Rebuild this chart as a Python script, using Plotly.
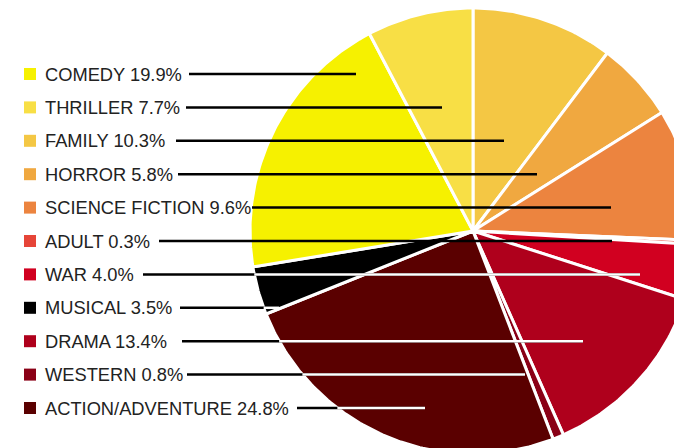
"""Film genre share pie with left-hand labels and leader lines."""

import numpy as np
import plotly.graph_objects as go

# legend order (top to bottom)
genres = [
    "COMEDY", "THRILLER", "FAMILY", "HORROR", "SCIENCE FICTION", "ADULT",
    "WAR", "MUSICAL", "DRAMA", "WESTERN", "ACTION/ADVENTURE",
]
shares = [19.9, 7.7, 10.3, 5.8, 9.6, 0.3, 4.0, 3.5, 13.4, 0.8, 24.8]
colors = [
    "#F6F100", "#F8DF45", "#F4C744", "#F0A840", "#EC843F", "#E64538",
    "#D10020", "#000000", "#AF001C", "#8A0016", "#5A0000",
]
# order of slices clockwise from 12 o'clock
pie_order = [
    "FAMILY", "HORROR", "SCIENCE FICTION", "ADULT", "WAR", "DRAMA",
    "WESTERN", "ACTION/ADVENTURE", "MUSICAL", "COMEDY", "THRILLER",
]

# axis units are page pixels (body margin removed below)
W, H = 674, 448
CX, CY, R = 473, 231, 223
ROW0, ROW_STEP = 74, 33.4
# leader line start (after the text) and end (inside the slice), in px
line_x0 = [189, 186, 176, 178, 252, 159, 143, 180, 182, 187, 297]
line_x1 = [356, 442, 504, 537, 611, 612, 640, 279, 583, 525, 425]
white_inside = {"WAR", "MUSICAL", "DRAMA", "WESTERN", "ACTION/ADVENTURE"}

fig = go.Figure()

total = sum(shares)
start = 0.0
for g in pie_order:
    i = genres.index(g)
    span = shares[i] / total * 2 * np.pi
    t = np.linspace(start, start + span, max(4, int(span * 80)))
    xs = np.concatenate([[CX], CX + R * np.sin(t), [CX]])
    ys = np.concatenate([[CY], CY - R * np.cos(t), [CY]])
    fig.add_trace(go.Scatter(
        x=xs, y=ys, mode="lines", fill="toself", fillcolor=colors[i],
        line=dict(color="white", width=3), hoverinfo="skip", showlegend=False,
    ))
    start += span

for i, g in enumerate(genres):
    y = ROW0 + i * ROW_STEP
    fig.add_shape(type="rect", x0=24, x1=36, y0=y - 6, y1=y + 6,
                  fillcolor=colors[i], line_width=0)
    fig.add_annotation(
        x=43, y=y, text=f"{g} {shares[i]:.1f}%", showarrow=False,
        xanchor="left", yanchor="middle",
        font=dict(family="Liberation Sans, Arial", size=18.3, color="#222222"),
    )
    fig.add_shape(type="line", x0=line_x0[i], x1=line_x1[i], y0=y, y1=y,
                  line=dict(color="black", width=2.5))
    if g in white_inside:
        edge = CX - np.sqrt(R ** 2 - (y - CY) ** 2)
        fig.add_shape(type="line", x0=edge, x1=line_x1[i], y0=y, y1=y,
                      line=dict(color="white", width=2.5))

fig.update_layout(
    width=W, height=H,
    margin=dict(l=0, r=0, t=0, b=0),
    paper_bgcolor="white", plot_bgcolor="white",
    xaxis=dict(range=[0, W], visible=False, fixedrange=True),
    yaxis=dict(range=[H, 0], visible=False, fixedrange=True),
)

# pie runs off the window edge: drop the default 8px page margin
fig.write_html(
    "out.html",
    config={"displayModeBar": False},
    post_script="document.body.style.margin = '0'; document.body.style.overflow = 'hidden';",
)
